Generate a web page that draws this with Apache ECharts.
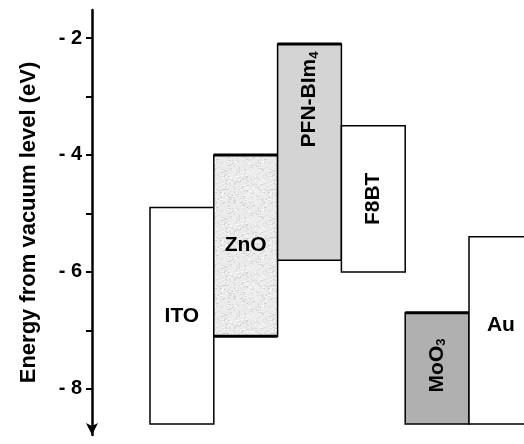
<!DOCTYPE html>
<html>
<head>
<meta charset="utf-8">
<script src="https://cdn.jsdelivr.net/npm/echarts@6/dist/echarts.min.js"></script>
<style>
    html, body { margin: 0; padding: 0; background: #fff; }
    #chart { width: 524px; height: 444px; }
</style>
</head>
<body>
<div id="chart"></div>
<script>
    // energy levels (eV)
    var materials = ['ITO', 'ZnO', 'PFN-BIm{sub|4}', 'F8BT', 'MoO{sub|3}', 'Au'];
    var upperLevel = [-4.9, -4.0, -2.1, -3.5, -6.7, -5.4];
    var lowerLevel = [-8.6, -7.1, -5.8, -6.0, -8.6, -8.6];
    var labelLevel = [-6.75, -5.55, -3.05, -4.75, -7.6, -6.92];
    var tickValues = [-8, -7, -6, -5, -4, -3, -2];
    var labelValues = [-8, -6, -4, -2];

    // looks
    var fills = ['#ffffff', 'pattern', '#d4d4d4', '#ffffff', '#b0b0b0', '#ffffff'];
    var rotated = [false, false, true, true, true, false];
    var thickTop = [false, true, true, false, true, false];
    var thickBottom = [false, true, false, false, false, false];

    // speckled texture for ZnO
    function makeSpeckle() {
        var c = document.createElement('canvas');
        c.width = 48; c.height = 48;
        var ctx = c.getContext('2d');
        ctx.fillStyle = '#ebebeb';
        ctx.fillRect(0, 0, 48, 48);
        var s = 12345;
        function next() { s = (s * 1103515245 + 12345) % 2147483648; return s / 2147483648; }
        for (var i = 0; i < 800; i++) {
            var g = Math.round(205 + next() * 50);
            ctx.fillStyle = 'rgb(' + g + ',' + g + ',' + g + ')';
            ctx.fillRect(Math.floor(next() * 48), Math.floor(next() * 48), 1 + Math.floor(next() * 2), 1);
        }
        return c;
    }
    var speckle = makeSpeckle();

    var font = '"Liberation Sans", Arial, sans-serif';
    var data = materials.map(function (m, i) {
        return [i, upperLevel[i], lowerLevel[i], labelLevel[i]];
    });

    var myChart = echarts.init(document.getElementById('chart'));
    var option = {
        animation: false,
        grid: { left: 92, right: 0, top: 10, bottom: 9 },
        xAxis: {
            type: 'value', min: -0.909, max: 5.862,
            show: false
        },
        yAxis: {
            type: 'value', min: -8.79, max: -1.52,
            name: 'Energy from vacuum level (eV)',
            nameLocation: 'middle',
            nameGap: 52,
            nameTextStyle: { fontFamily: font, fontWeight: 'bold', fontSize: 22, color: '#000' },
            splitLine: { show: false },
            axisLine: {
                show: true,
                onZero: false,
                symbol: ['arrow', 'none'],
                symbolSize: [9, 12],
                lineStyle: { color: '#000', width: 2.5 }
            },
            axisTick: {
                show: true, inside: false, length: 6,
                customValues: tickValues,
                lineStyle: { color: '#000', width: 2 }
            },
            axisLabel: {
                customValues: labelValues,
                margin: 10,
                fontFamily: font, fontWeight: 'bold', fontSize: 20, color: '#000',
                formatter: function (v) { return '- ' + Math.abs(v); }
            }
        },
        series: [{
            type: 'custom',
            clip: true,
            data: data,
            renderItem: function (params, api) {
                var i = api.value(0);
                var tl = api.coord([i, api.value(1)]);
                var br = api.coord([i + 1, api.value(2)]);
                var lab = api.coord([i + 0.5, api.value(3)]);
                var fill = fills[i] === 'pattern' ? { image: speckle, repeat: 'repeat' } : fills[i];
                var children = [{
                    type: 'rect',
                    shape: { x: tl[0], y: tl[1], width: br[0] - tl[0], height: br[1] - tl[1] },
                    style: { fill: fill, stroke: '#000', lineWidth: 1.5 }
                }];
                if (thickTop[i]) {
                    children.push({
                        type: 'line',
                        shape: { x1: tl[0], y1: tl[1], x2: br[0], y2: tl[1] },
                        style: { stroke: '#000', lineWidth: 3 }
                    });
                }
                if (thickBottom[i]) {
                    children.push({
                        type: 'line',
                        shape: { x1: tl[0], y1: br[1], x2: br[0], y2: br[1] },
                        style: { stroke: '#000', lineWidth: 3 }
                    });
                }
                children.push({
                    type: 'text',
                    x: lab[0], y: lab[1],
                    rotation: rotated[i] ? Math.PI / 2 : 0,
                    style: {
                        text: materials[i],
                        fontFamily: font, fontWeight: 'bold', fontSize: 21,
                        fill: '#000', align: 'center', verticalAlign: 'middle',
                        rich: {
                            sub: { fontFamily: font, fontWeight: 'bold', fontSize: 13, verticalAlign: 'bottom', padding: [9, 0, 0, 0] }
                        }
                    }
                });
                return { type: 'group', children: children };
            }
        }]
    };
    myChart.setOption(option);
</script>
</body>
</html>
